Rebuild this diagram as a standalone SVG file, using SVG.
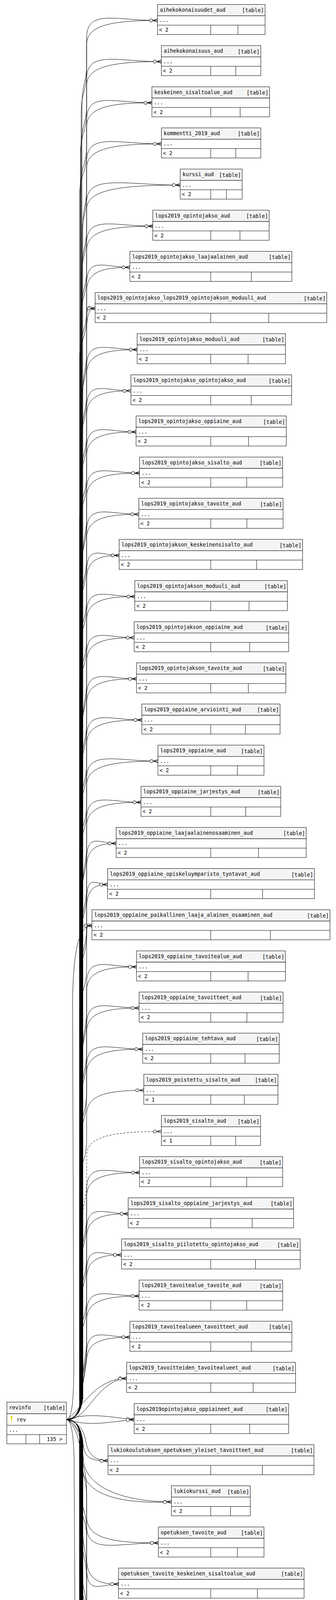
<svg xmlns="http://www.w3.org/2000/svg" width="861" height="7656" viewBox="0 0 861 7656">
<style>
.h{fill:#f4f4f4;stroke:#000;stroke-width:1}
.b{fill:#fff;stroke:#000;stroke-width:1}
.l{fill:none;stroke:#000;stroke-width:1}
text{font-family:"DejaVu Sans Mono","Liberation Mono",monospace;font-size:13.3px;fill:#000}
.r{text-anchor:end}
.e path{fill:none;stroke:#000;stroke-width:1;marker-end:url(#cf)}
.e path.d{stroke-dasharray:5,4}
</style>
<defs>
<marker id="cf" markerUnits="userSpaceOnUse" markerWidth="24" markerHeight="12" viewBox="-22 -6 24 12" refX="0" refY="0" orient="auto">
<path d="M-12,0L0,-4M-12,0L0,0M-12,0L0,4" fill="none" stroke="#000" stroke-width="1"/>
<circle cx="-16.5" cy="0" r="4" fill="#fff" stroke="#000" stroke-width="1"/>
</marker>
<g id="ky"><ellipse cx="0" cy="3" rx="2.4" ry="3" fill="#d6d600"/><rect x="-1" y="5" width="2" height="9" fill="#d6d600"/></g>
<g id="kg"><ellipse cx="0" cy="3" rx="2.4" ry="3" fill="#b8b8b8"/><rect x="-1" y="5" width="2" height="9" fill="#b8b8b8"/></g>
</defs>
<rect width="861" height="7656" fill="#fff"/>
<g id="edges" class="e">
<path d="M170,3634C192,3634 207,3618 210,3580L210,272.4c0,-60 12,-55 12,-115v-60c0,-75 72.6,-45 181.6,-45"/>
<path d="M170,3634C192,3634 207,3618 208,3580L208,292.4c0,-60 14,-55 14,-115v-63c0,-47 54.5,-62 181.6,-62"/>
<path d="M170,3634C192,3634 207,3618 208,3580L208,377.7c0,-60 14,-55 14,-115v-60c0,-75 76.6,-45 191.5,-45"/>
<path d="M170,3634C192,3634 207,3618 206,3580L206,397.7c0,-60 16,-55 16,-115v-63c0,-47 57.5,-62 191.5,-62"/>
<path d="M170,3634C192,3634 207,3618 206,3580L206,483.1c0,-60 16,-55 16,-115v-60c0,-75 66.9,-45 167.3,-45"/>
<path d="M170,3634C192,3634 207,3618 204,3580L204,503.1c0,-60 18,-55 18,-115v-63c0,-47 50.2,-62 167.3,-62"/>
<path d="M170,3634C192,3634 207,3618 212,3580L212,588.4c0,-60 10,-55 10,-115v-60c0,-75 76.6,-45 191.5,-45"/>
<path d="M170,3634C192,3634 207,3618 210,3580L210,608.4c0,-60 12,-55 12,-115v-63c0,-47 57.5,-62 191.5,-62"/>
<path d="M170,3634C192,3634 207,3618 210,3580L210,693.8c0,-60 12,-55 12,-115v-60c0,-75 95.9,-45 239.8,-45"/>
<path d="M170,3634C192,3634 207,3618 208,3580L208,713.8c0,-60 14,-55 14,-115v-63c0,-47 71.9,-62 239.8,-62"/>
<path d="M170,3634C192,3634 207,3618 208,3580L208,799.1c0,-60 14,-55 14,-115v-60c0,-75 67.8,-45 169.5,-45"/>
<path d="M170,3634C192,3634 207,3618 206,3580L206,819.1c0,-60 16,-55 16,-115v-63c0,-47 50.9,-62 169.5,-62"/>
<path d="M170,3634C192,3634 207,3618 206,3580L206,904.4c0,-60 16,-55 16,-115v-60c0,-75 44.3,-45 110.8,-45"/>
<path d="M170,3634C192,3634 207,3618 204,3580L204,924.4c0,-60 18,-55 18,-115v-63c0,-47 33.2,-62 110.8,-62"/>
<path d="M170,3634C192,3634 207,3618 212,3580L212,1009.8c0,-60 10,-55 10,-115v-60c0,-75 8.7,-45 21.8,-45"/>
<path d="M170,3634C192,3634 207,3618 210,3580L210,1029.8c0,-60 12,-55 12,-115v-63c0,-47 6.5,-62 21.8,-62"/>
<path d="M170,3634C192,3634 207,3618 210,3580L210,1115.1c0,-60 12,-55 12,-115v-60c0,-75 51.8,-45 129.4,-45"/>
<path d="M170,3634C192,3634 207,3618 208,3580L208,1135.1c0,-60 14,-55 14,-115v-63c0,-47 38.8,-62 129.4,-62"/>
<path d="M170,3634C192,3634 207,3618 208,3580L208,1220.5c0,-60 14,-55 14,-115v-60c0,-75 45.4,-45 113.5,-45"/>
<path d="M170,3634C192,3634 207,3618 206,3580L206,1240.5c0,-60 16,-55 16,-115v-63c0,-47 34.1,-62 113.5,-62"/>
<path d="M170,3634C192,3634 207,3618 206,3580L206,1325.8c0,-60 16,-55 16,-115v-60c0,-75 50.7,-45 126.7,-45"/>
<path d="M170,3634C192,3634 207,3618 204,3580L204,1345.8c0,-60 18,-55 18,-115v-63c0,-47 38,-62 126.7,-62"/>
<path d="M170,3634C192,3634 207,3618 212,3580L212,1431.1c0,-60 10,-55 10,-115v-60c0,-75 54.2,-45 135.5,-45"/>
<path d="M170,3634C192,3634 207,3618 210,3580L210,1451.1c0,-60 12,-55 12,-115v-63c0,-47 40.7,-62 135.5,-62"/>
<path d="M170,3634C192,3634 207,3618 210,3580L210,1536.5c0,-60 12,-55 12,-115v-60c0,-75 53.5,-45 133.8,-45"/>
<path d="M170,3634C192,3634 207,3618 208,3580L208,1556.5c0,-60 14,-55 14,-115v-63c0,-47 40.1,-62 133.8,-62"/>
<path d="M170,3634C192,3634 207,3618 208,3580L208,1641.8c0,-60 14,-55 14,-115v-60c0,-75 33.3,-45 83.3,-45"/>
<path d="M170,3634C192,3634 207,3618 206,3580L206,1661.8c0,-60 16,-55 16,-115v-63c0,-47 25,-62 83.3,-62"/>
<path d="M170,3634C192,3634 207,3618 206,3580L206,1747.2c0,-60 16,-55 16,-115v-60c0,-75 49.4,-45 123.4,-45"/>
<path d="M170,3634C192,3634 207,3618 204,3580L204,1767.2c0,-60 18,-55 18,-115v-63c0,-47 37,-62 123.4,-62"/>
<path d="M170,3634C192,3634 207,3618 212,3580L212,1852.5c0,-60 10,-55 10,-115v-60c0,-75 48.7,-45 121.8,-45"/>
<path d="M170,3634C192,3634 207,3618 210,3580L210,1872.5c0,-60 12,-55 12,-115v-63c0,-47 36.5,-62 121.8,-62"/>
<path d="M170,3634C192,3634 207,3618 210,3580L210,1957.8c0,-60 12,-55 12,-115v-60c0,-75 51.1,-45 127.8,-45"/>
<path d="M170,3634C192,3634 207,3618 208,3580L208,1977.8c0,-60 14,-55 14,-115v-63c0,-47 38.3,-62 127.8,-62"/>
<path d="M170,3634C192,3634 207,3618 208,3580L208,2063.2c0,-60 14,-55 14,-115v-60c0,-75 56.6,-45 141.5,-45"/>
<path d="M170,3634C192,3634 207,3618 206,3580L206,2083.2c0,-60 16,-55 16,-115v-63c0,-47 42.5,-62 141.5,-62"/>
<path d="M170,3634C192,3634 207,3618 206,3580L206,2168.5c0,-60 16,-55 16,-115v-60c0,-75 73.1,-45 182.7,-45"/>
<path d="M170,3634C192,3634 207,3618 204,3580L204,2188.5c0,-60 18,-55 18,-115v-63c0,-47 54.8,-62 182.7,-62"/>
<path d="M170,3634C192,3634 207,3618 212,3580L212,2273.9c0,-60 10,-55 10,-115v-60c0,-75 55.7,-45 139.3,-45"/>
<path d="M170,3634C192,3634 207,3618 210,3580L210,2293.9c0,-60 12,-55 12,-115v-63c0,-47 41.8,-62 139.3,-62"/>
<path d="M170,3634C192,3634 207,3618 210,3580L210,2379.2c0,-60 12,-55 12,-115v-60c0,-75 30.2,-45 75.6,-45"/>
<path d="M170,3634C192,3634 207,3618 208,3580L208,2399.2c0,-60 14,-55 14,-115v-63c0,-47 22.7,-62 75.6,-62"/>
<path d="M170,3634C192,3634 207,3618 208,3580L208,2484.5c0,-60 14,-55 14,-115v-60c0,-75 21.5,-45 53.7,-45"/>
<path d="M170,3634C192,3634 207,3618 206,3580L206,2504.5c0,-60 16,-55 16,-115v-63c0,-47 16.1,-62 53.7,-62"/>
<path d="M170,3634C192,3634 207,3618 206,3580L206,2589.9c0,-60 16,-55 16,-115v-60c0,-75 5.4,-45 13.6,-45"/>
<path d="M170,3634C182,3634 189,3600 189,3500L186,2560C188,2440 200,2369.9 235.6,2369.9"/>
<path d="M170,3634C192,3634 207,3618 212,3580L212,2695.2c0,-60 10,-55 10,-115v-60c0,-75 51.1,-45 127.8,-45"/>
<path d="M170,3634C192,3634 207,3618 210,3580L210,2715.2c0,-60 12,-55 12,-115v-63c0,-47 38.3,-62 127.8,-62"/>
<path d="M170,3634C192,3634 207,3618 210,3580L210,2800.6c0,-60 12,-55 12,-115v-60c0,-75 53.8,-45 134.4,-45"/>
<path d="M170,3634C192,3634 207,3618 208,3580L208,2820.6c0,-60 14,-55 14,-115v-63c0,-47 40.3,-62 134.4,-62"/>
<path d="M170,3634C192,3634 207,3618 208,3580L208,2905.9c0,-60 14,-55 14,-115v-60c0,-75 57.5,-45 143.7,-45"/>
<path d="M170,3634C192,3634 207,3618 206,3580L206,2925.9c0,-60 16,-55 16,-115v-63c0,-47 43.1,-62 143.7,-62"/>
<path d="M170,3634C192,3634 207,3618 204,3580L204,3031.2c0,-60 18,-55 18,-115v-63c0,-47 44,-62 146.5,-62"/>
<path class="d" d="M170,3634C192,3634 207,3618 210,3580L210,3136.6c0,-60 12,-55 12,-115v-63c0,-47 57.5,-62 191.5,-62"/>
<path d="M170,3634C192,3634 207,3618 210,3580L210,3221.9c0,-60 12,-55 12,-115v-60c0,-75 54.2,-45 135.5,-45"/>
<path d="M170,3634C192,3634 207,3618 208,3580L208,3241.9c0,-60 14,-55 14,-115v-63c0,-47 40.7,-62 135.5,-62"/>
<path d="M170,3634C192,3634 207,3618 208,3580L208,3327.3c0,-60 14,-55 14,-115v-60c0,-75 42.6,-45 106.4,-45"/>
<path d="M170,3634C192,3634 207,3618 206,3580L206,3347.3c0,-60 16,-55 16,-115v-63c0,-47 31.9,-62 106.4,-62"/>
<path d="M170,3634C192,3634 207,3618 206,3580L206,3432.6c0,-60 16,-55 16,-115v-60c0,-75 35.8,-45 89.4,-45"/>
<path d="M170,3634C192,3634 207,3618 204,3580L204,3452.6c0,-60 18,-55 18,-115v-63c0,-47 26.8,-62 89.4,-62"/>
<path d="M170,3634C192,3634 207,3618 212,3580L212,3537.9c0,-60 10,-55 10,-115v-60c0,-75 53.8,-45 134.4,-45"/>
<path d="M170,3634C192,3634 207,3618 210,3580L210,3557.9c0,-60 12,-55 12,-115v-63c0,-47 40.3,-62 134.4,-62"/>
<path d="M170,3634C192,3634 209,3610 210,3560L222,3468.3c0,-75 44.3,-45 110.8,-45"/>
<path d="M170,3634C192,3634 207,3610 208,3570L222,3485.3c0,-47 33.2,-62 110.8,-62"/>
<path d="M170,3634C205,3615 240,3528.6 324.5,3528.6"/>
<path d="M170,3634C225,3640 245,3534 324.5,3528.6"/>
<path d="M170,3634C230,3615 280,3628 343.8,3634"/>
<path d="M170,3634C230,3653 280,3640 343.8,3634"/>
<path d="M170,3634C200,3640 215,3660 220,3690C225,3720 240,3739.3 276.8,3739.3"/>
<path d="M170,3634C205,3648 212,3690 216,3712C221,3735 245,3741 276.8,3739.3"/>
<path d="M170,3634C195,3640 210,3680 214,3740C220,3800 300,3844.6 439.3,3844.6"/>
<path d="M170,3634C195,3645 208,3700 212,3760C218,3835 330,3850 439.3,3844.6"/>
<path d="M170,3634C192,3634 207,3650 208,3690L208,3700c0,60 14,55 14,115v67c0,53 55.1,68 183.8,68"/>
<path d="M170,3634C192,3634 207,3650 206,3690L206,3720c0,60 16,55 16,115v70c0,75 73.5,45 183.8,45"/>
<path d="M170,3634C192,3634 207,3650 206,3690L206,3805.3c0,60 16,55 16,115v67c0,53 24.5,68 81.7,68"/>
<path d="M170,3634C192,3634 207,3650 204,3690L204,3825.3c0,60 18,55 18,115v70c0,75 32.7,45 81.7,45"/>
<path d="M170,3634C192,3634 207,3650 212,3690L212,3910.7c0,60 10,55 10,115v67c0,53 27.2,68 90.5,68"/>
<path d="M170,3634C192,3634 207,3650 210,3690L210,3930.7c0,60 12,55 12,115v70c0,75 36.2,45 90.5,45"/>
<path d="M170,3634C192,3634 207,3650 210,3690L210,4016c0,60 12,55 12,115v67c0,53 27.2,68 90.5,68"/>
<path d="M170,3634C192,3634 207,3650 208,3690L208,4036c0,60 14,55 14,115v70c0,75 36.2,45 90.5,45"/>
<path d="M170,3634C192,3634 207,3650 208,3690L208,4121.3c0,60 14,55 14,115v67c0,53 34.1,68 113.5,68"/>
<path d="M170,3634C192,3634 207,3650 206,3690L206,4141.3c0,60 16,55 16,115v70c0,75 45.4,45 113.5,45"/>
<path d="M170,3634C192,3634 207,3650 206,3690L206,4226.7c0,60 16,55 16,115v67c0,53 53.8,68 179.4,68"/>
<path d="M170,3634C192,3634 207,3650 204,3690L204,4246.7c0,60 18,55 18,115v70c0,75 71.8,45 179.4,45"/>
<path d="M170,3634C192,3634 207,3650 212,3690L212,4332c0,60 10,55 10,115v67c0,53 34.7,68 115.7,68"/>
<path d="M170,3634C192,3634 207,3650 210,3690L210,4352c0,60 12,55 12,115v70c0,75 46.3,45 115.7,45"/>
<path d="M170,3634C192,3634 207,3650 210,3690L210,4437.4c0,60 12,55 12,115v67c0,53 33.4,68 111.3,68"/>
<path d="M170,3634C192,3634 207,3650 208,3690L208,4457.4c0,60 14,55 14,115v70c0,75 44.5,45 111.3,45"/>
<path d="M170,3634C192,3634 207,3650 208,3690L208,4542.7c0,60 14,55 14,115v67c0,53 47.6,68 158.5,68"/>
<path d="M170,3634C192,3634 207,3650 206,3690L206,4562.7c0,60 16,55 16,115v70c0,75 63.4,45 158.5,45"/>
<path d="M170,3634C192,3634 207,3650 206,3690L206,4648c0,60 16,55 16,115v67c0,53 34.7,68 115.7,68"/>
<path d="M170,3634C192,3634 207,3650 204,3690L204,4668c0,60 18,55 18,115v70c0,75 46.3,45 115.7,45"/>
<path d="M170,3634C192,3634 207,3650 212,3690L212,4753.4c0,60 10,55 10,115v67c0,53 38.3,68 127.8,68"/>
<path d="M170,3634C192,3634 207,3650 210,3690L210,4773.4c0,60 12,55 12,115v70c0,75 51.1,45 127.8,45"/>
<path d="M170,3634C192,3634 207,3650 210,3690L210,4858.7c0,60 12,55 12,115v67c0,53 68.3,68 227.7,68"/>
<path d="M170,3634C192,3634 207,3650 208,3690L208,4878.7c0,60 14,55 14,115v70c0,75 91.1,45 227.7,45"/>
<path d="M170,3634C192,3634 207,3650 208,3690L208,4964.1c0,60 14,55 14,115v67c0,53 53.3,68 177.8,68"/>
<path d="M170,3634C192,3634 207,3650 206,3690L206,4984.1c0,60 16,55 16,115v70c0,75 71.1,45 177.8,45"/>
<path d="M170,3634C192,3634 207,3650 206,3690L206,5069.4c0,60 16,55 16,115v67c0,53 52.4,68 174.5,68"/>
<path d="M170,3634C192,3634 207,3650 204,3690L204,5089.4c0,60 18,55 18,115v70c0,75 69.8,45 174.5,45"/>
<path d="M170,3634C192,3634 207,3650 212,3690L212,5174.7c0,60 10,55 10,115v67c0,53 40.3,68 134.4,68"/>
<path d="M170,3634C192,3634 207,3650 210,3690L210,5194.7c0,60 12,55 12,115v70c0,75 53.8,45 134.4,45"/>
<path d="M170,3634C192,3634 207,3650 210,3690L210,5280.1c0,60 12,55 12,115v67c0,53 50.2,68 167.3,68"/>
<path d="M170,3634C192,3634 207,3650 208,3690L208,5300.1c0,60 14,55 14,115v70c0,75 66.9,45 167.3,45"/>
<path d="M170,3634C192,3634 207,3650 208,3690L208,5385.4c0,60 14,55 14,115v67c0,53 56.8,68 189.3,68"/>
<path d="M170,3634C192,3634 207,3650 206,3690L206,5405.4c0,60 16,55 16,115v70c0,75 75.7,45 189.3,45"/>
<path d="M170,3634C192,3634 207,3650 206,3690L206,5490.8c0,60 16,55 16,115v67c0,53 24.5,68 81.7,68"/>
<path d="M170,3634C192,3634 207,3650 204,3690L204,5510.8c0,60 18,55 18,115v70c0,75 32.7,45 81.7,45"/>
<path d="M170,3634C192,3634 207,3650 212,3690L212,5596.1c0,60 10,55 10,115v67c0,53 48.7,68 162.4,68"/>
<path d="M170,3634C192,3634 207,3650 210,3690L210,5616.1c0,60 12,55 12,115v70c0,75 65,45 162.4,45"/>
<path d="M170,3634C192,3634 207,3650 210,3690L210,5701.4c0,60 12,55 12,115v67c0,53 17.9,68 59.7,68"/>
<path d="M170,3634C192,3634 207,3650 208,3690L208,5721.4c0,60 14,55 14,115v70c0,75 23.9,45 59.7,45"/>
<path d="M170,3634C192,3634 207,3650 208,3690L208,5806.8c0,60 14,55 14,115v67c0,53 22.7,68 75.6,68"/>
<path d="M170,3634C192,3634 207,3650 206,3690L206,5826.8c0,60 16,55 16,115v70c0,75 30.2,45 75.6,45"/>
<path d="M170,3634C192,3634 207,3650 206,3690L206,5912.1c0,60 16,55 16,115v67c0,53 62.2,68 207.4,68"/>
<path d="M170,3634C192,3634 207,3650 212,3690L212,6017.5c0,60 10,55 10,115v67c0,53 41.3,68 137.7,68"/>
<path d="M170,3634C192,3634 207,3650 210,3690L210,6122.8c0,60 12,55 12,115v67c0,53 30.4,68 101.4,68"/>
<path d="M170,3634C192,3634 207,3650 208,3690L208,6142.8c0,60 14,55 14,115v70c0,75 40.6,45 101.4,45"/>
<path d="M170,3634C192,3634 207,3650 208,3690L208,6228.1c0,60 14,55 14,115v67c0,53 50.9,68 169.5,68"/>
<path d="M170,3634C192,3634 207,3650 206,3690L206,6248.1c0,60 16,55 16,115v70c0,75 67.8,45 169.5,45"/>
<path d="M170,3634C192,3634 207,3650 206,3690L206,6333.5c0,60 16,55 16,115v67c0,53 53.5,68 178.3,68"/>
<path d="M170,3634C192,3634 207,3650 204,3690L204,6353.5c0,60 18,55 18,115v70c0,75 71.3,45 178.3,45"/>
<path d="M170,3634C192,3634 207,3650 212,3690L212,6438.8c0,60 10,55 10,115v67c0,53 61.7,68 205.8,68"/>
<path d="M170,3634C192,3634 207,3650 210,3690L210,6458.8c0,60 12,55 12,115v70c0,75 82.3,45 205.8,45"/>
<path d="M170,3634C192,3634 207,3650 210,3690L210,6544.2c0,60 12,55 12,115v67c0,53 55.7,68 185.5,68"/>
<path d="M170,3634C192,3634 207,3650 208,3690L208,6564.2c0,60 14,55 14,115v70c0,75 74.2,45 185.5,45"/>
<path d="M170,3634C192,3634 207,3650 208,3690L208,6649.5c0,60 14,55 14,115v67c0,53 67.7,68 225.5,68"/>
<path d="M170,3634C192,3634 207,3650 206,3690L206,6669.5c0,60 16,55 16,115v70c0,75 90.2,45 225.5,45"/>
<path class="d" d="M170,3634C192,3634 207,3650 206,3690L206,6754.8c0,60 16,55 16,115v67c0,53 72.8,68 242.6,68"/>
<path d="M170,3634C192,3634 207,3650 212,3690L212,6860.2c0,60 10,55 10,115v67c0,53 58.1,68 193.7,68"/>
<path d="M170,3634C192,3634 207,3650 210,3690L210,6880.2c0,60 12,55 12,115v70c0,75 77.5,45 193.7,45"/>
<path d="M170,3634C192,3634 207,3650 209,3690L209,7040c0,60 13,55 13,115C222,7210 250,7249.6 304.2,7249.6"/>
<path d="M170,3634C192,3634 207,3650 207,3690L207,7050c0,60 15,55 15,115C222,7265 250,7308.4 304.2,7308.4"/>
<path d="M170,3634C192,3634 207,3650 208,3690L208,7315.5c0,60 14,55 14,115v67c0,53 60.8,68 202.5,68"/>
<path d="M170,3634C182,3634 190,3670 190,3760L204,6400L208,7460C212,7530 290,7565.5 424.5,7565.5"/>
</g>
<g id="revinfo" transform="translate(0,3589.4)"><rect class="h" x="17.6" width="152.6" height="29.8"/><rect class="b" x="17.6" y="29.8" width="152.6" height="77"/><path class="l" d="M17.6,59.2H170.2M17.6,83.3H170.2M66.4,83.3V106.8M101.6,83.3V106.8"/><text x="23" y="19">revinfo</text><text class="r" x="167.2" y="20">[table]</text><use href="#ky" x="29.5" y="35"/><text x="42.8" y="49.5">rev</text><text x="22.5" y="76">...</text><text class="r" x="160" y="100">135 &gt;</text></g>
<g id="t1" transform="translate(0,11.4)"><rect class="h" x="403.6" width="275.7" height="29"/><rect class="b" x="403.6" y="29" width="275.7" height="48"/><path class="l" d="M403.6,53H679.3M540,53V77M609.7,53V77"/><text x="409.6" y="18.5">aihekokonaisuudet_aud</text><text class="r" x="676.3" y="20">[table]</text><text x="408.6" y="45">...</text><text x="407.6" y="69.5">&lt; 2</text></g>
<g id="t2" transform="translate(0,116.7)"><rect class="h" x="413.5" width="254.8" height="29"/><rect class="b" x="413.5" y="29" width="254.8" height="48"/><path class="l" d="M413.5,53H668.3M540,53V77M604.2,53V77"/><text x="419.5" y="18.5">aihekokonaisuus_aud</text><text class="r" x="665.3" y="20">[table]</text><text x="418.5" y="45">...</text><text x="417.5" y="69.5">&lt; 2</text></g>
<g id="t3" transform="translate(0,222.1)"><rect class="h" x="389.3" width="301.5" height="29"/><rect class="b" x="389.3" y="29" width="301.5" height="48"/><path class="l" d="M389.3,53H690.8M540,53V77M615.4,53V77"/><text x="395.3" y="18.5">keskeinen_sisaltoalue_aud</text><text class="r" x="687.8" y="20">[table]</text><text x="394.3" y="45">...</text><text x="393.3" y="69.5">&lt; 2</text></g>
<g id="t4" transform="translate(0,327.4)"><rect class="h" x="413.5" width="254.8" height="29"/><rect class="b" x="413.5" y="29" width="254.8" height="48"/><path class="l" d="M413.5,53H668.3M540,53V77M604.2,53V77"/><text x="419.5" y="18.5">kommentti_2019_aud</text><text class="r" x="665.3" y="20">[table]</text><text x="418.5" y="45">...</text><text x="417.5" y="69.5">&lt; 2</text></g>
<g id="t5" transform="translate(0,432.8)"><rect class="h" x="461.8" width="158.7" height="29"/><rect class="b" x="461.8" y="29" width="158.7" height="48"/><path class="l" d="M461.8,53H620.5M540,53V77M580.3,53V77"/><text x="467.8" y="18.5">kurssi_aud</text><text class="r" x="617.5" y="20">[table]</text><text x="466.8" y="45">...</text><text x="465.8" y="69.5">&lt; 2</text></g>
<g id="t6" transform="translate(0,538.1)"><rect class="h" x="391.5" width="298.2" height="29"/><rect class="b" x="391.5" y="29" width="298.2" height="48"/><path class="l" d="M391.5,53H689.7M540,53V77M614.9,53V77"/><text x="397.5" y="18.5">lops2019_opintojakso_aud</text><text class="r" x="686.7" y="20">[table]</text><text x="396.5" y="45">...</text><text x="395.5" y="69.5">&lt; 2</text></g>
<g id="t7" transform="translate(0,643.4)"><rect class="h" x="332.8" width="415.1" height="29"/><rect class="b" x="332.8" y="29" width="415.1" height="48"/><path class="l" d="M332.8,53H747.9M540,53V77M644,53V77"/><text x="338.8" y="18.5">lops2019_opintojakso_laajaalainen_aud</text><text class="r" x="744.9" y="20">[table]</text><text x="337.8" y="45">...</text><text x="336.8" y="69.5">&lt; 2</text></g>
<g id="t8" transform="translate(0,748.8)"><rect class="h" x="243.8" width="593.6" height="29"/><rect class="b" x="243.8" y="29" width="593.6" height="48"/><path class="l" d="M243.8,53H837.4M540,53V77M688.7,53V77"/><text x="249.8" y="18.5">lops2019_opintojakso_lops2019_opintojakson_moduuli_aud</text><text class="r" x="834.4" y="20">[table]</text><text x="248.8" y="45">...</text><text x="247.8" y="69.5">&lt; 2</text></g>
<g id="t9" transform="translate(0,854.1)"><rect class="h" x="351.4" width="380" height="29"/><rect class="b" x="351.4" y="29" width="380" height="48"/><path class="l" d="M351.4,53H731.4M540,53V77M635.7,53V77"/><text x="357.4" y="18.5">lops2019_opintojakso_moduuli_aud</text><text class="r" x="728.4" y="20">[table]</text><text x="356.4" y="45">...</text><text x="355.4" y="69.5">&lt; 2</text></g>
<g id="t10" transform="translate(0,959.5)"><rect class="h" x="335.5" width="411.8" height="29"/><rect class="b" x="335.5" y="29" width="411.8" height="48"/><path class="l" d="M335.5,53H747.3M540,53V77M643.7,53V77"/><text x="341.5" y="18.5">lops2019_opintojakso_opintojakso_aud</text><text class="r" x="744.3" y="20">[table]</text><text x="340.5" y="45">...</text><text x="339.5" y="69.5">&lt; 2</text></g>
<g id="t11" transform="translate(0,1064.8)"><rect class="h" x="348.7" width="384.9" height="29"/><rect class="b" x="348.7" y="29" width="384.9" height="48"/><path class="l" d="M348.7,53H733.6M540,53V77M636.8,53V77"/><text x="354.7" y="18.5">lops2019_opintojakso_oppiaine_aud</text><text class="r" x="730.6" y="20">[table]</text><text x="353.7" y="45">...</text><text x="352.7" y="69.5">&lt; 2</text></g>
<g id="t12" transform="translate(0,1170.1)"><rect class="h" x="357.5" width="366.8" height="29"/><rect class="b" x="357.5" y="29" width="366.8" height="48"/><path class="l" d="M357.5,53H724.3M540,53V77M632.2,53V77"/><text x="363.5" y="18.5">lops2019_opintojakso_sisalto_aud</text><text class="r" x="721.3" y="20">[table]</text><text x="362.5" y="45">...</text><text x="361.5" y="69.5">&lt; 2</text></g>
<g id="t13" transform="translate(0,1275.5)"><rect class="h" x="355.8" width="369.6" height="29"/><rect class="b" x="355.8" y="29" width="369.6" height="48"/><path class="l" d="M355.8,53H725.4M540,53V77M632.7,53V77"/><text x="361.8" y="18.5">lops2019_opintojakso_tavoite_aud</text><text class="r" x="722.4" y="20">[table]</text><text x="360.8" y="45">...</text><text x="359.8" y="69.5">&lt; 2</text></g>
<g id="t14" transform="translate(0,1380.8)"><rect class="h" x="305.3" width="470.1" height="29"/><rect class="b" x="305.3" y="29" width="470.1" height="48"/><path class="l" d="M305.3,53H775.4M540,53V77M657.7,53V77"/><text x="311.3" y="18.5">lops2019_opintojakson_keskeinensisalto_aud</text><text class="r" x="772.4" y="20">[table]</text><text x="310.3" y="45">...</text><text x="309.3" y="69.5">&lt; 2</text></g>
<g id="t15" transform="translate(0,1486.2)"><rect class="h" x="345.4" width="391" height="29"/><rect class="b" x="345.4" y="29" width="391" height="48"/><path class="l" d="M345.4,53H736.4M540,53V77M638.2,53V77"/><text x="351.4" y="18.5">lops2019_opintojakson_moduuli_aud</text><text class="r" x="733.4" y="20">[table]</text><text x="350.4" y="45">...</text><text x="349.4" y="69.5">&lt; 2</text></g>
<g id="t16" transform="translate(0,1591.5)"><rect class="h" x="343.8" width="395.9" height="29"/><rect class="b" x="343.8" y="29" width="395.9" height="48"/><path class="l" d="M343.8,53H739.7M540,53V77M639.9,53V77"/><text x="349.8" y="18.5">lops2019_opintojakson_oppiaine_aud</text><text class="r" x="736.7" y="20">[table]</text><text x="348.8" y="45">...</text><text x="347.8" y="69.5">&lt; 2</text></g>
<g id="t17" transform="translate(0,1696.8)"><rect class="h" x="349.8" width="382.7" height="29"/><rect class="b" x="349.8" y="29" width="382.7" height="48"/><path class="l" d="M349.8,53H732.5M540,53V77M636.3,53V77"/><text x="355.8" y="18.5">lops2019_opintojakson_tavoite_aud</text><text class="r" x="729.5" y="20">[table]</text><text x="354.8" y="45">...</text><text x="353.8" y="69.5">&lt; 2</text></g>
<g id="t18" transform="translate(0,1802.2)"><rect class="h" x="363.5" width="354.2" height="29"/><rect class="b" x="363.5" y="29" width="354.2" height="48"/><path class="l" d="M363.5,53H717.7M540,53V77M628.9,53V77"/><text x="369.5" y="18.5">lops2019_oppiaine_arviointi_aud</text><text class="r" x="714.7" y="20">[table]</text><text x="368.5" y="45">...</text><text x="367.5" y="69.5">&lt; 2</text></g>
<g id="t19" transform="translate(0,1907.5)"><rect class="h" x="404.7" width="271.8" height="29"/><rect class="b" x="404.7" y="29" width="271.8" height="48"/><path class="l" d="M404.7,53H676.5M540,53V77M608.3,53V77"/><text x="410.7" y="18.5">lops2019_oppiaine_aud</text><text class="r" x="673.5" y="20">[table]</text><text x="409.7" y="45">...</text><text x="408.7" y="69.5">&lt; 2</text></g>
<g id="t20" transform="translate(0,2012.9)"><rect class="h" x="361.3" width="358.1" height="29"/><rect class="b" x="361.3" y="29" width="358.1" height="48"/><path class="l" d="M361.3,53H719.4M540,53V77M629.7,53V77"/><text x="367.3" y="18.5">lops2019_oppiaine_jarjestys_aud</text><text class="r" x="716.4" y="20">[table]</text><text x="366.3" y="45">...</text><text x="365.3" y="69.5">&lt; 2</text></g>
<g id="t21" transform="translate(0,2118.2)"><rect class="h" x="297.6" width="487.1" height="29"/><rect class="b" x="297.6" y="29" width="487.1" height="48"/><path class="l" d="M297.6,53H784.7M540,53V77M662.4,53V77"/><text x="303.6" y="18.5">lops2019_oppiaine_laajaalainenosaaminen_aud</text><text class="r" x="781.7" y="20">[table]</text><text x="302.6" y="45">...</text><text x="301.6" y="69.5">&lt; 2</text></g>
<g id="t22" transform="translate(0,2223.5)"><rect class="h" x="275.7" width="529.9" height="29"/><rect class="b" x="275.7" y="29" width="529.9" height="48"/><path class="l" d="M275.7,53H805.6M540,53V77M672.8,53V77"/><text x="281.7" y="18.5">lops2019_oppiaine_opiskeluymparisto_tyotavat_aud</text><text class="r" x="802.6" y="20">[table]</text><text x="280.7" y="45">...</text><text x="279.7" y="69.5">&lt; 2</text></g>
<g id="t23" transform="translate(0,2328.9)"><rect class="h" x="235.6" width="610.1" height="29"/><rect class="b" x="235.6" y="29" width="610.1" height="48"/><path class="l" d="M235.6,53H845.7M540,53V77M692.9,53V77"/><text x="241.6" y="18.5">lops2019_oppiaine_paikallinen_laaja_alainen_osaaminen_aud</text><text class="r" x="842.7" y="20">[table]</text><text x="240.6" y="45">...</text><text x="239.6" y="69.5">&lt; 2</text></g>
<g id="t24" transform="translate(0,2434.2)"><rect class="h" x="349.8" width="381.6" height="29"/><rect class="b" x="349.8" y="29" width="381.6" height="48"/><path class="l" d="M349.8,53H731.4M540,53V77M635.7,53V77"/><text x="355.8" y="18.5">lops2019_oppiaine_tavoitealue_aud</text><text class="r" x="728.4" y="20">[table]</text><text x="354.8" y="45">...</text><text x="353.8" y="69.5">&lt; 2</text></g>
<g id="t25" transform="translate(0,2539.6)"><rect class="h" x="356.4" width="369" height="29"/><rect class="b" x="356.4" y="29" width="369" height="48"/><path class="l" d="M356.4,53H725.4M540,53V77M632.7,53V77"/><text x="362.4" y="18.5">lops2019_oppiaine_tavoitteet_aud</text><text class="r" x="722.4" y="20">[table]</text><text x="361.4" y="45">...</text><text x="360.4" y="69.5">&lt; 2</text></g>
<g id="t26" transform="translate(0,2644.9)"><rect class="h" x="365.7" width="349.8" height="29"/><rect class="b" x="365.7" y="29" width="349.8" height="48"/><path class="l" d="M365.7,53H715.5M540,53V77M627.8,53V77"/><text x="371.7" y="18.5">lops2019_oppiaine_tehtava_aud</text><text class="r" x="712.5" y="20">[table]</text><text x="370.7" y="45">...</text><text x="369.7" y="69.5">&lt; 2</text></g>
<g id="t27" transform="translate(0,2750.2)"><rect class="h" x="368.5" width="343.7" height="29"/><rect class="b" x="368.5" y="29" width="343.7" height="48"/><path class="l" d="M368.5,53H712.2M540,53V77M626.1,53V77"/><text x="374.5" y="18.5">lops2019_poistettu_sisalto_aud</text><text class="r" x="709.2" y="20">[table]</text><text x="373.5" y="45">...</text><text x="372.5" y="69.5">&lt; 1</text></g>
<g id="t28" transform="translate(0,2855.6)"><rect class="h" x="413.5" width="254.2" height="29"/><rect class="b" x="413.5" y="29" width="254.2" height="48"/><path class="l" d="M413.5,53H667.7M540,53V77M603.9,53V77"/><text x="419.5" y="18.5">lops2019_sisalto_aud</text><text class="r" x="664.7" y="20">[table]</text><text x="418.5" y="45">...</text><text x="417.5" y="69.5">&lt; 1</text></g>
<g id="t29" transform="translate(0,2960.9)"><rect class="h" x="357.5" width="366.8" height="29"/><rect class="b" x="357.5" y="29" width="366.8" height="48"/><path class="l" d="M357.5,53H724.3M540,53V77M632.2,53V77"/><text x="363.5" y="18.5">lops2019_sisalto_opintojakso_aud</text><text class="r" x="721.3" y="20">[table]</text><text x="362.5" y="45">...</text><text x="361.5" y="69.5">&lt; 2</text></g>
<g id="t30" transform="translate(0,3066.3)"><rect class="h" x="328.4" width="423.9" height="29"/><rect class="b" x="328.4" y="29" width="423.9" height="48"/><path class="l" d="M328.4,53H752.3M540,53V77M646.2,53V77"/><text x="334.4" y="18.5">lops2019_sisalto_oppiaine_jarjestys_aud</text><text class="r" x="749.3" y="20">[table]</text><text x="333.4" y="45">...</text><text x="332.4" y="69.5">&lt; 2</text></g>
<g id="t31" transform="translate(0,3171.6)"><rect class="h" x="311.4" width="457.9" height="29"/><rect class="b" x="311.4" y="29" width="457.9" height="48"/><path class="l" d="M311.4,53H769.3M540,53V77M654.7,53V77"/><text x="317.4" y="18.5">lops2019_sisalto_piilotettu_opintojakso_aud</text><text class="r" x="766.3" y="20">[table]</text><text x="316.4" y="45">...</text><text x="315.4" y="69.5">&lt; 2</text></g>
<g id="t32" transform="translate(0,3276.9)"><rect class="h" x="356.4" width="367.9" height="29"/><rect class="b" x="356.4" y="29" width="367.9" height="48"/><path class="l" d="M356.4,53H724.3M540,53V77M632.2,53V77"/><text x="362.4" y="18.5">lops2019_tavoitealue_tavoite_aud</text><text class="r" x="721.3" y="20">[table]</text><text x="361.4" y="45">...</text><text x="360.4" y="69.5">&lt; 2</text></g>
<g id="t33" transform="translate(0,3382.3)"><rect class="h" x="332.8" width="415.1" height="29"/><rect class="b" x="332.8" y="29" width="415.1" height="48"/><path class="l" d="M332.8,53H747.9M540,53V77M644,53V77"/><text x="338.8" y="18.5">lops2019_tavoitealueen_tavoitteet_aud</text><text class="r" x="744.9" y="20">[table]</text><text x="337.8" y="45">...</text><text x="336.8" y="69.5">&lt; 2</text></g>
<g id="t34" transform="translate(0,3487.6)"><rect class="h" x="324.5" width="432.8" height="29"/><rect class="b" x="324.5" y="29" width="432.8" height="48"/><path class="l" d="M324.5,53H757.3M540,53V77M648.7,53V77"/><text x="330.5" y="18.5">lops2019_tavoitteiden_tavoitealueet_aud</text><text class="r" x="754.3" y="20">[table]</text><text x="329.5" y="45">...</text><text x="328.5" y="69.5">&lt; 2</text></g>
<g id="t35" transform="translate(0,3593)"><rect class="h" x="343.8" width="395.9" height="29"/><rect class="b" x="343.8" y="29" width="395.9" height="48"/><path class="l" d="M343.8,53H739.7M540,53V77M639.9,53V77"/><text x="349.8" y="18.5">lops2019opintojakso_oppiaineet_aud</text><text class="r" x="736.7" y="20">[table]</text><text x="348.8" y="45">...</text><text x="347.8" y="69.5">&lt; 2</text></g>
<g id="t36" transform="translate(0,3698.3)"><rect class="h" x="276.8" width="527.7" height="29"/><rect class="b" x="276.8" y="29" width="527.7" height="48"/><path class="l" d="M276.8,53H804.5M540,53V77M672.3,53V77"/><text x="282.8" y="18.5">lukiokoulutuksen_opetuksen_yleiset_tavoitteet_aud</text><text class="r" x="801.5" y="20">[table]</text><text x="281.8" y="45">...</text><text x="280.8" y="69.5">&lt; 2</text></g>
<g id="t37" transform="translate(0,3803.6)"><rect class="h" x="439.3" width="202.1" height="29"/><rect class="b" x="439.3" y="29" width="202.1" height="48"/><path class="l" d="M439.3,53H641.4M540,53V77M590.7,53V77"/><text x="445.3" y="18.5">lukiokurssi_aud</text><text class="r" x="638.4" y="20">[table]</text><text x="444.3" y="45">...</text><text x="443.3" y="69.5">&lt; 2</text></g>
<g id="t38" transform="translate(0,3909)"><rect class="h" x="405.8" width="270.7" height="29"/><rect class="b" x="405.8" y="29" width="270.7" height="48"/><path class="l" d="M405.8,53H676.5M540,53V77M608.3,53V77"/><text x="411.8" y="18.5">opetuksen_tavoite_aud</text><text class="r" x="673.5" y="20">[table]</text><text x="410.8" y="45">...</text><text x="409.8" y="69.5">&lt; 2</text></g>
<g id="t39" transform="translate(0,4014.3)"><rect class="h" x="303.7" width="475.5" height="29"/><rect class="b" x="303.7" y="29" width="475.5" height="48"/><path class="l" d="M303.7,53H779.2M540,53V77M659.6,53V77"/><text x="309.7" y="18.5">opetuksen_tavoite_keskeinen_sisaltoalue_aud</text><text class="r" x="776.2" y="20">[table]</text><text x="308.7" y="45">...</text><text x="307.7" y="69.5">&lt; 2</text></g>
<g id="t40" transform="translate(0,4119.7)"><rect class="h" x="312.5" width="456.8" height="29"/><rect class="b" x="312.5" y="29" width="456.8" height="48"/><path class="l" d="M312.5,53H769.3M540,53V77M654.7,53V77"/><text x="318.5" y="18.5">opetuksen_tavoite_oppiaine_kohdealue_aud</text><text class="r" x="766.3" y="20">[table]</text><text x="317.5" y="45">...</text><text x="316.5" y="69.5">&lt; 2</text></g>
<g id="t41" transform="translate(0,4225)"><rect class="h" x="312.5" width="455.7" height="29"/><rect class="b" x="312.5" y="29" width="455.7" height="48"/><path class="l" d="M312.5,53H768.2M540,53V77M654.1,53V77"/><text x="318.5" y="18.5">opetuksen_tavoite_tavoitteen_arviointi_aud</text><text class="r" x="765.2" y="20">[table]</text><text x="317.5" y="45">...</text><text x="316.5" y="69.5">&lt; 2</text></g>
<g id="t42" transform="translate(0,4330.3)"><rect class="h" x="335.5" width="410.2" height="29"/><rect class="b" x="335.5" y="29" width="410.2" height="48"/><path class="l" d="M335.5,53H745.7M540,53V77M642.9,53V77"/><text x="341.5" y="18.5">opetuksentavoite_laajattavoitteet_aud</text><text class="r" x="742.7" y="20">[table]</text><text x="340.5" y="45">...</text><text x="339.5" y="69.5">&lt; 2</text></g>
<g id="t43" transform="translate(0,4435.7)"><rect class="h" x="401.4" width="277.9" height="29"/><rect class="b" x="401.4" y="29" width="277.9" height="48"/><path class="l" d="M401.4,53H679.3M540,53V77M609.7,53V77"/><text x="407.4" y="18.5">opetussuunnitelma_aud</text><text class="r" x="676.3" y="20">[table]</text><text x="406.4" y="45">...</text><text x="405.4" y="69.5">&lt; 2</text></g>
<g id="t44" transform="translate(0,4541)"><rect class="h" x="337.7" width="406.9" height="29"/><rect class="b" x="337.7" y="29" width="406.9" height="48"/><path class="l" d="M337.7,53H744.6M540,53V77M642.3,53V77"/><text x="343.7" y="18.5">opetussuunnitelma_julkaisukielet_aud</text><text class="r" x="741.6" y="20">[table]</text><text x="342.7" y="45">...</text><text x="341.7" y="69.5">&lt; 2</text></g>
<g id="t45" transform="translate(0,4646.4)"><rect class="h" x="333.3" width="414" height="29"/><rect class="b" x="333.3" y="29" width="414" height="48"/><path class="l" d="M333.3,53H747.3M540,53V77M643.7,53V77"/><text x="339.3" y="18.5">opetussuunnitelma_koodistokoodi_aud</text><text class="r" x="744.3" y="20">[table]</text><text x="338.3" y="45">...</text><text x="337.3" y="69.5">&lt; 2</text></g>
<g id="t46" transform="translate(0,4751.7)"><rect class="h" x="380.5" width="320.2" height="29"/><rect class="b" x="380.5" y="29" width="320.2" height="48"/><path class="l" d="M380.5,53H700.7M540,53V77M620.4,53V77"/><text x="386.5" y="18.5">opetussuunnitelma_liite_aud</text><text class="r" x="697.7" y="20">[table]</text><text x="385.5" y="45">...</text><text x="384.5" y="69.5">&lt; 2</text></g>
<g id="t47" transform="translate(0,4857)"><rect class="h" x="337.7" width="406.9" height="29"/><rect class="b" x="337.7" y="29" width="406.9" height="48"/><path class="l" d="M337.7,53H744.6M540,53V77M642.3,53V77"/><text x="343.7" y="18.5">opetussuunnitelma_organisaatiot_aud</text><text class="r" x="741.6" y="20">[table]</text><text x="342.7" y="45">...</text><text x="341.7" y="69.5">&lt; 2</text></g>
<g id="t48" transform="translate(0,4962.4)"><rect class="h" x="349.8" width="381.6" height="29"/><rect class="b" x="349.8" y="29" width="381.6" height="48"/><path class="l" d="M349.8,53H731.4M540,53V77M635.7,53V77"/><text x="355.8" y="18.5">opetussuunnitelman_aikataulu_aud</text><text class="r" x="728.4" y="20">[table]</text><text x="354.8" y="45">...</text><text x="353.8" y="69.5">&lt; 2</text></g>
<g id="t49" transform="translate(0,5067.7)"><rect class="h" x="449.7" width="181.8" height="29"/><rect class="b" x="449.7" y="29" width="181.8" height="48"/><path class="l" d="M449.7,53H631.5M540,53V77M585.8,53V77"/><text x="455.7" y="18.5">oppiaine_aud</text><text class="r" x="628.5" y="20">[table]</text><text x="454.7" y="45">...</text><text x="453.7" y="69.5">&lt; 2</text></g>
<g id="t50" transform="translate(0,5173.1)"><rect class="h" x="399.8" width="283.9" height="29"/><rect class="b" x="399.8" y="29" width="283.9" height="48"/><path class="l" d="M399.8,53H683.7M540,53V77M611.9,53V77"/><text x="405.8" y="18.5">oppiaine_kohdealue_aud</text><text class="r" x="680.7" y="20">[table]</text><text x="404.8" y="45">...</text><text x="403.8" y="69.5">&lt; 2</text></g>
<g id="t51" transform="translate(0,5278.4)"><rect class="h" x="396.5" width="287.7" height="29"/><rect class="b" x="396.5" y="29" width="287.7" height="48"/><path class="l" d="M396.5,53H684.2M540,53V77M612.1,53V77"/><text x="402.5" y="18.5">oppiaine_lukiokurssi_aud</text><text class="r" x="681.2" y="20">[table]</text><text x="401.5" y="45">...</text><text x="400.5" y="69.5">&lt; 2</text></g>
<g id="t52" transform="translate(0,5383.7)"><rect class="h" x="356.4" width="369" height="29"/><rect class="b" x="356.4" y="29" width="369" height="48"/><path class="l" d="M356.4,53H725.4M540,53V77M632.7,53V77"/><text x="362.4" y="18.5">oppiaine_oppiaine_kohdealue_aud</text><text class="r" x="722.4" y="20">[table]</text><text x="361.4" y="45">...</text><text x="360.4" y="69.5">&lt; 2</text></g>
<g id="t53" transform="translate(0,5489.1)"><rect class="h" x="389.3" width="303.2" height="29"/><rect class="b" x="389.3" y="29" width="303.2" height="48"/><path class="l" d="M389.3,53H692.5M540,53V77M616.3,53V77"/><text x="395.3" y="18.5">oppiaine_vapaatekstit_aud</text><text class="r" x="689.5" y="20">[table]</text><text x="394.3" y="45">...</text><text x="393.3" y="69.5">&lt; 2</text></g>
<g id="t54" transform="translate(0,5594.4)"><rect class="h" x="411.3" width="260.3" height="29"/><rect class="b" x="411.3" y="29" width="260.3" height="48"/><path class="l" d="M411.3,53H671.6M540,53V77M605.8,53V77"/><text x="417.3" y="18.5">oppiaineen_vlkok_aud</text><text class="r" x="668.6" y="20">[table]</text><text x="416.3" y="45">...</text><text x="415.3" y="69.5">&lt; 2</text></g>
<g id="t55" transform="translate(0,5699.8)"><rect class="h" x="303.7" width="475.5" height="29"/><rect class="b" x="303.7" y="29" width="475.5" height="48"/><path class="l" d="M303.7,53H779.2M540,53V77M659.6,53V77"/><text x="309.7" y="18.5">oppiaineen_vlkok_oppiaineenvuosiluokka_aud</text><text class="r" x="776.2" y="20">[table]</text><text x="308.7" y="45">...</text><text x="307.7" y="69.5">&lt; 2</text></g>
<g id="t56" transform="translate(0,5805.1)"><rect class="h" x="384.4" width="311.9" height="29"/><rect class="b" x="384.4" y="29" width="311.9" height="48"/><path class="l" d="M384.4,53H696.3M540,53V77M618.2,53V77"/><text x="390.4" y="18.5">oppiaineenvuosiluokka_aud</text><text class="r" x="693.3" y="20">[table]</text><text x="389.4" y="45">...</text><text x="388.4" y="69.5">&lt; 2</text></g>
<g id="t57" transform="translate(0,5910.4)"><rect class="h" x="281.7" width="517.8" height="29"/><rect class="b" x="281.7" y="29" width="517.8" height="48"/><path class="l" d="M281.7,53H799.5M540,53V77M669.8,53V77"/><text x="287.7" y="18.5">oppiaineenvuosiluokka_keskeinen_sisaltoalue_aud</text><text class="r" x="796.5" y="20">[table]</text><text x="286.7" y="45">...</text><text x="285.7" y="69.5">&lt; 2</text></g>
<g id="t58" transform="translate(0,6015.8)"><rect class="h" x="297.6" width="487.1" height="29"/><rect class="b" x="297.6" y="29" width="487.1" height="48"/><path class="l" d="M297.6,53H784.7M540,53V77M662.4,53V77"/><text x="303.6" y="18.5">oppiaineenvuosiluokka_opetuksen_tavoite_aud</text><text class="r" x="781.7" y="20">[table]</text><text x="302.6" y="45">...</text><text x="301.6" y="69.5">&lt; 2</text></g>
<g id="t59" transform="translate(0,6121.1)"><rect class="h" x="429.4" width="221.9" height="29"/><rect class="b" x="429.4" y="29" width="221.9" height="48"/><path class="l" d="M429.4,53H651.3M540,53V77M595.7,53V77"/><text x="435.4" y="18.5">ops_oppiaine_aud</text><text class="r" x="648.3" y="20">[table]</text><text x="434.4" y="45">...</text><text x="433.4" y="69.5">&lt; 1</text></g>
<g id="t60" transform="translate(0,6226.5)"><rect class="h" x="359.7" width="364.1" height="29"/><rect class="b" x="359.7" y="29" width="364.1" height="48"/><path class="l" d="M359.7,53H723.8M540,53V77M631.9,53V77"/><text x="365.7" y="18.5">ops_vuosiluokkakokonaisuus_aud</text><text class="r" x="720.8" y="20">[table]</text><text x="364.7" y="45">...</text><text x="363.7" y="69.5">&lt; 1</text></g>
<g id="t61" transform="translate(0,6331.8)"><rect class="h" x="323.4" width="433.9" height="29"/><rect class="b" x="323.4" y="29" width="433.9" height="48"/><path class="l" d="M323.4,53H757.3M540,53V77M648.7,53V77"/><text x="329.4" y="18.5">paikallinen_laaja_alainen_osaaminen_aud</text><text class="r" x="754.3" y="20">[table]</text><text x="328.4" y="45">...</text><text x="327.4" y="69.5">&lt; 2</text></g>
<g id="t62" transform="translate(0,6437.1)"><rect class="h" x="391.5" width="299.9" height="29"/><rect class="b" x="391.5" y="29" width="299.9" height="48"/><path class="l" d="M391.5,53H691.4M540,53V77M615.7,53V77"/><text x="397.5" y="18.5">poistettu_opintojakso_aud</text><text class="r" x="688.4" y="20">[table]</text><text x="396.5" y="45">...</text><text x="395.5" y="69.5">&lt; 2</text></g>
<g id="t63" transform="translate(0,6542.5)"><rect class="h" x="400.3" width="281.2" height="29"/><rect class="b" x="400.3" y="29" width="281.2" height="48"/><path class="l" d="M400.3,53H681.5M540,53V77M610.8,53V77"/><text x="406.3" y="18.5">tavoitteen_arviointi_aud</text><text class="r" x="678.5" y="20">[table]</text><text x="405.3" y="45">...</text><text x="404.3" y="69.5">&lt; 2</text></g>
<g id="t64" transform="translate(0,6647.8)"><rect class="h" x="427.8" width="225.7" height="29"/><rect class="b" x="427.8" y="29" width="225.7" height="48"/><path class="l" d="M427.8,53H653.5M540,53V77M596.8,53V77"/><text x="433.8" y="18.5">tekstikappale_aud</text><text class="r" x="650.5" y="20">[table]</text><text x="432.8" y="45">...</text><text x="431.8" y="69.5">&lt; 2</text></g>
<g id="t65" transform="translate(0,6753.2)"><rect class="h" x="407.5" width="265.7" height="29"/><rect class="b" x="407.5" y="29" width="265.7" height="48"/><path class="l" d="M407.5,53H673.2M540,53V77M606.6,53V77"/><text x="413.5" y="18.5">tekstikappaleviite_aud</text><text class="r" x="670.2" y="20">[table]</text><text x="412.5" y="45">...</text><text x="411.5" y="69.5">&lt; 2</text></g>
<g id="t66" transform="translate(0,6858.5)"><rect class="h" x="447.5" width="186.2" height="29"/><rect class="b" x="447.5" y="29" width="186.2" height="48"/><path class="l" d="M447.5,53H633.7M540,53V77M586.9,53V77"/><text x="453.5" y="18.5">tekstiosa_aud</text><text class="r" x="630.7" y="20">[table]</text><text x="452.5" y="45">...</text><text x="451.5" y="69.5">&lt; 2</text></g>
<g id="t67" transform="translate(0,6963.8)"><rect class="h" x="464.6" width="152.1" height="29"/><rect class="b" x="464.6" y="29" width="152.1" height="48"/><path class="l" d="M464.6,53H616.7M540,53V77M578.4,53V77"/><text x="470.6" y="18.5">termi_aud</text><text class="r" x="613.7" y="20">[table]</text><text x="469.6" y="45">...</text><text x="468.6" y="69.5">&lt; 4</text></g>
<g id="t68" transform="translate(0,7069.2)"><rect class="h" x="415.7" width="252" height="29"/><rect class="b" x="415.7" y="29" width="252" height="48"/><path class="l" d="M415.7,53H667.7M540,53V77M603.9,53V77"/><text x="421.7" y="18.5">vlk_vapaatekstit_aud</text><text class="r" x="664.7" y="20">[table]</text><text x="420.7" y="45">...</text><text x="419.7" y="69.5">&lt; 2</text></g>
<g id="t69" transform="translate(0,7174.5)"><rect class="h" x="304.2" width="471.2" height="31"/><rect class="b" x="304.2" y="31" width="471.2" height="290"/><path class="l" d="M304.2,60.4H775.4M304.2,89.8H775.4M304.2,119.2H775.4M304.2,148.6H775.4M304.2,178H775.4M304.2,207.4H775.4M304.2,236.8H775.4M304.2,266.2H775.4M304.2,295.6H775.4M671.6,31V321M496.4,295.6V321"/><rect x="304.2" width="471.2" height="321" fill="none" stroke="#000" stroke-width="3"/><text x="313" y="19.5">vlkok_laaja_osaaminen_aud</text><text class="r" x="771.5" y="20.5">[table]</text><use href="#ky" x="320" y="37.5"/><use href="#ky" x="320" y="66.9"/><use href="#kg" x="320" y="125.7"/><text x="332.8" y="51">id</text><text x="675.4" y="51">int8[19]</text><text x="332.8" y="80.4">rev</text><text x="675.4" y="80.4">int4[10]</text><text x="332.8" y="109.8">revtype</text><text x="675.4" y="109.8">int2[5]</text><text x="332.8" y="139.2">revend</text><text x="675.4" y="139.2">int4[10]</text><text x="332.8" y="168.6">laajaalainenosaaminen_viite</text><text x="675.4" y="168.6">varchar[255]</text><text x="332.8" y="198">kuvaus_id</text><text x="675.4" y="198">int8[19]</text><text x="332.8" y="227.4">vuosiluokkakokonaisuus_id</text><text x="675.4" y="227.4">int8[19]</text><text x="332.8" y="256.8">nayta_perusteen_paatason_lao</text><text x="675.4" y="256.8">bool[1]</text><text x="332.8" y="286.2">nayta_perusteen_vlk_tarkennettu_lao</text><text x="675.4" y="286.2">bool[1]</text><text x="310.5" y="313">&lt; 2</text><text class="r" x="767" y="313">0 &gt;</text></g>
<g id="t70" transform="translate(0,7524.5)"><rect class="h" x="424.5" width="232.3" height="29"/><rect class="b" x="424.5" y="29" width="232.3" height="48"/><path class="l" d="M424.5,53H656.8M540,53V77M598.4,53V77"/><text x="430.5" y="18.5">vlkokonaisuus_aud</text><text class="r" x="653.8" y="20">[table]</text><text x="429.5" y="45">...</text><text x="428.5" y="69.5">&lt; 2</text></g>
<text x="16" y="7641">Generated by SchemaSpy</text>
</svg>
